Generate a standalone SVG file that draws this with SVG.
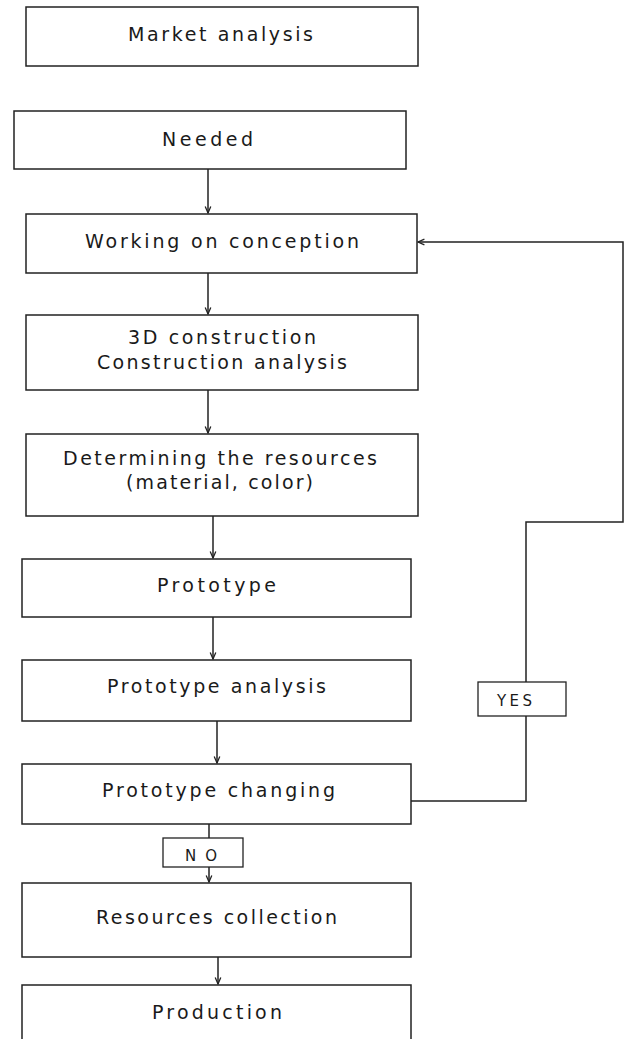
<svg xmlns="http://www.w3.org/2000/svg" width="626" height="1039" viewBox="0 0 626 1039">
<style>
.box{fill:#fff;stroke:#222;stroke-width:1.5}
.lbl{fill:#fff;stroke:#222;stroke-width:1.3}
.t{font-family:"DejaVu Sans",Verdana,sans-serif;font-size:19px;fill:#1a1a1a}
.sm{font-family:"DejaVu Sans",Verdana,sans-serif;font-size:15px;fill:#1a1a1a}
.c{fill:none;stroke:#222;stroke-width:1.5}
</style>
<defs>
<marker id="ah" viewBox="0 0 10 10" refX="9" refY="5" markerWidth="8" markerHeight="8" markerUnits="userSpaceOnUse" orient="auto">
<path d="M1,1.5 L9,5 L1,8.5" fill="none" stroke="#222" stroke-width="1.6"/>
</marker>
</defs>
<rect width="626" height="1039" fill="#fff"/>
<g id="connectors">
<line class="c" x1="208" y1="169" x2="208" y2="213" marker-end="url(#ah)"/>
<line class="c" x1="208" y1="273" x2="208" y2="314" marker-end="url(#ah)"/>
<line class="c" x1="208" y1="390" x2="208" y2="433" marker-end="url(#ah)"/>
<line class="c" x1="213" y1="516" x2="213" y2="558" marker-end="url(#ah)"/>
<line class="c" x1="213" y1="617" x2="213" y2="659" marker-end="url(#ah)"/>
<line class="c" x1="217" y1="721" x2="217" y2="763" marker-end="url(#ah)"/>
<line class="c" x1="209" y1="824" x2="209" y2="838"/>
<line class="c" x1="209" y1="867" x2="209" y2="882" marker-end="url(#ah)"/>
<line class="c" x1="218" y1="957" x2="218" y2="984" marker-end="url(#ah)"/>
<polyline class="c" points="411,801 526,801 526,522 623,522 623,242 418,242" marker-end="url(#ah)"/>
</g>
<g id="market-analysis"><rect class="box" x="26" y="7" width="392" height="59"/><text class="t" x="128" y="41" textLength="185">Market analysis</text></g>
<g id="needed"><rect class="box" x="14" y="111" width="392" height="58"/><text class="t" x="162" y="146" textLength="91">Needed</text></g>
<g id="working-on-conception"><rect class="box" x="26" y="214" width="391" height="59"/><text class="t" x="85" y="248" textLength="274">Working on conception</text></g>
<g id="construction"><rect class="box" x="26" y="315" width="392" height="75"/><text class="t" x="128" y="344" textLength="188">3D construction</text><text class="t" x="97" y="369" textLength="250">Construction analysis</text></g>
<g id="determining-resources"><rect class="box" x="26" y="434" width="392" height="82"/><text class="t" x="63" y="465" textLength="314">Determining the resources</text><text class="t" x="126" y="489" textLength="187">(material, color)</text></g>
<g id="prototype"><rect class="box" x="22" y="559" width="389" height="58"/><text class="t" x="157" y="592" textLength="119">Prototype</text></g>
<g id="prototype-analysis"><rect class="box" x="22" y="660" width="389" height="61"/><text class="t" x="107" y="693" textLength="219">Prototype analysis</text></g>
<g id="prototype-changing"><rect class="box" x="22" y="764" width="389" height="60"/><text class="t" x="102" y="797" textLength="233">Prototype changing</text></g>
<g id="no-label"><rect class="lbl" x="163" y="838" width="80" height="29"/><text class="sm" x="185" y="861" textLength="32">NO</text></g>
<g id="yes-label"><rect class="lbl" x="478" y="682" width="88" height="34"/><text class="sm" x="497" y="706" textLength="35">YES</text></g>
<g id="resources-collection"><rect class="box" x="22" y="883" width="389" height="74"/><text class="t" x="96" y="924" textLength="241">Resources collection</text></g>
<g id="production"><rect class="box" x="22" y="985" width="389" height="70"/><text class="t" x="152" y="1019" textLength="130">Production</text></g>
</svg>
